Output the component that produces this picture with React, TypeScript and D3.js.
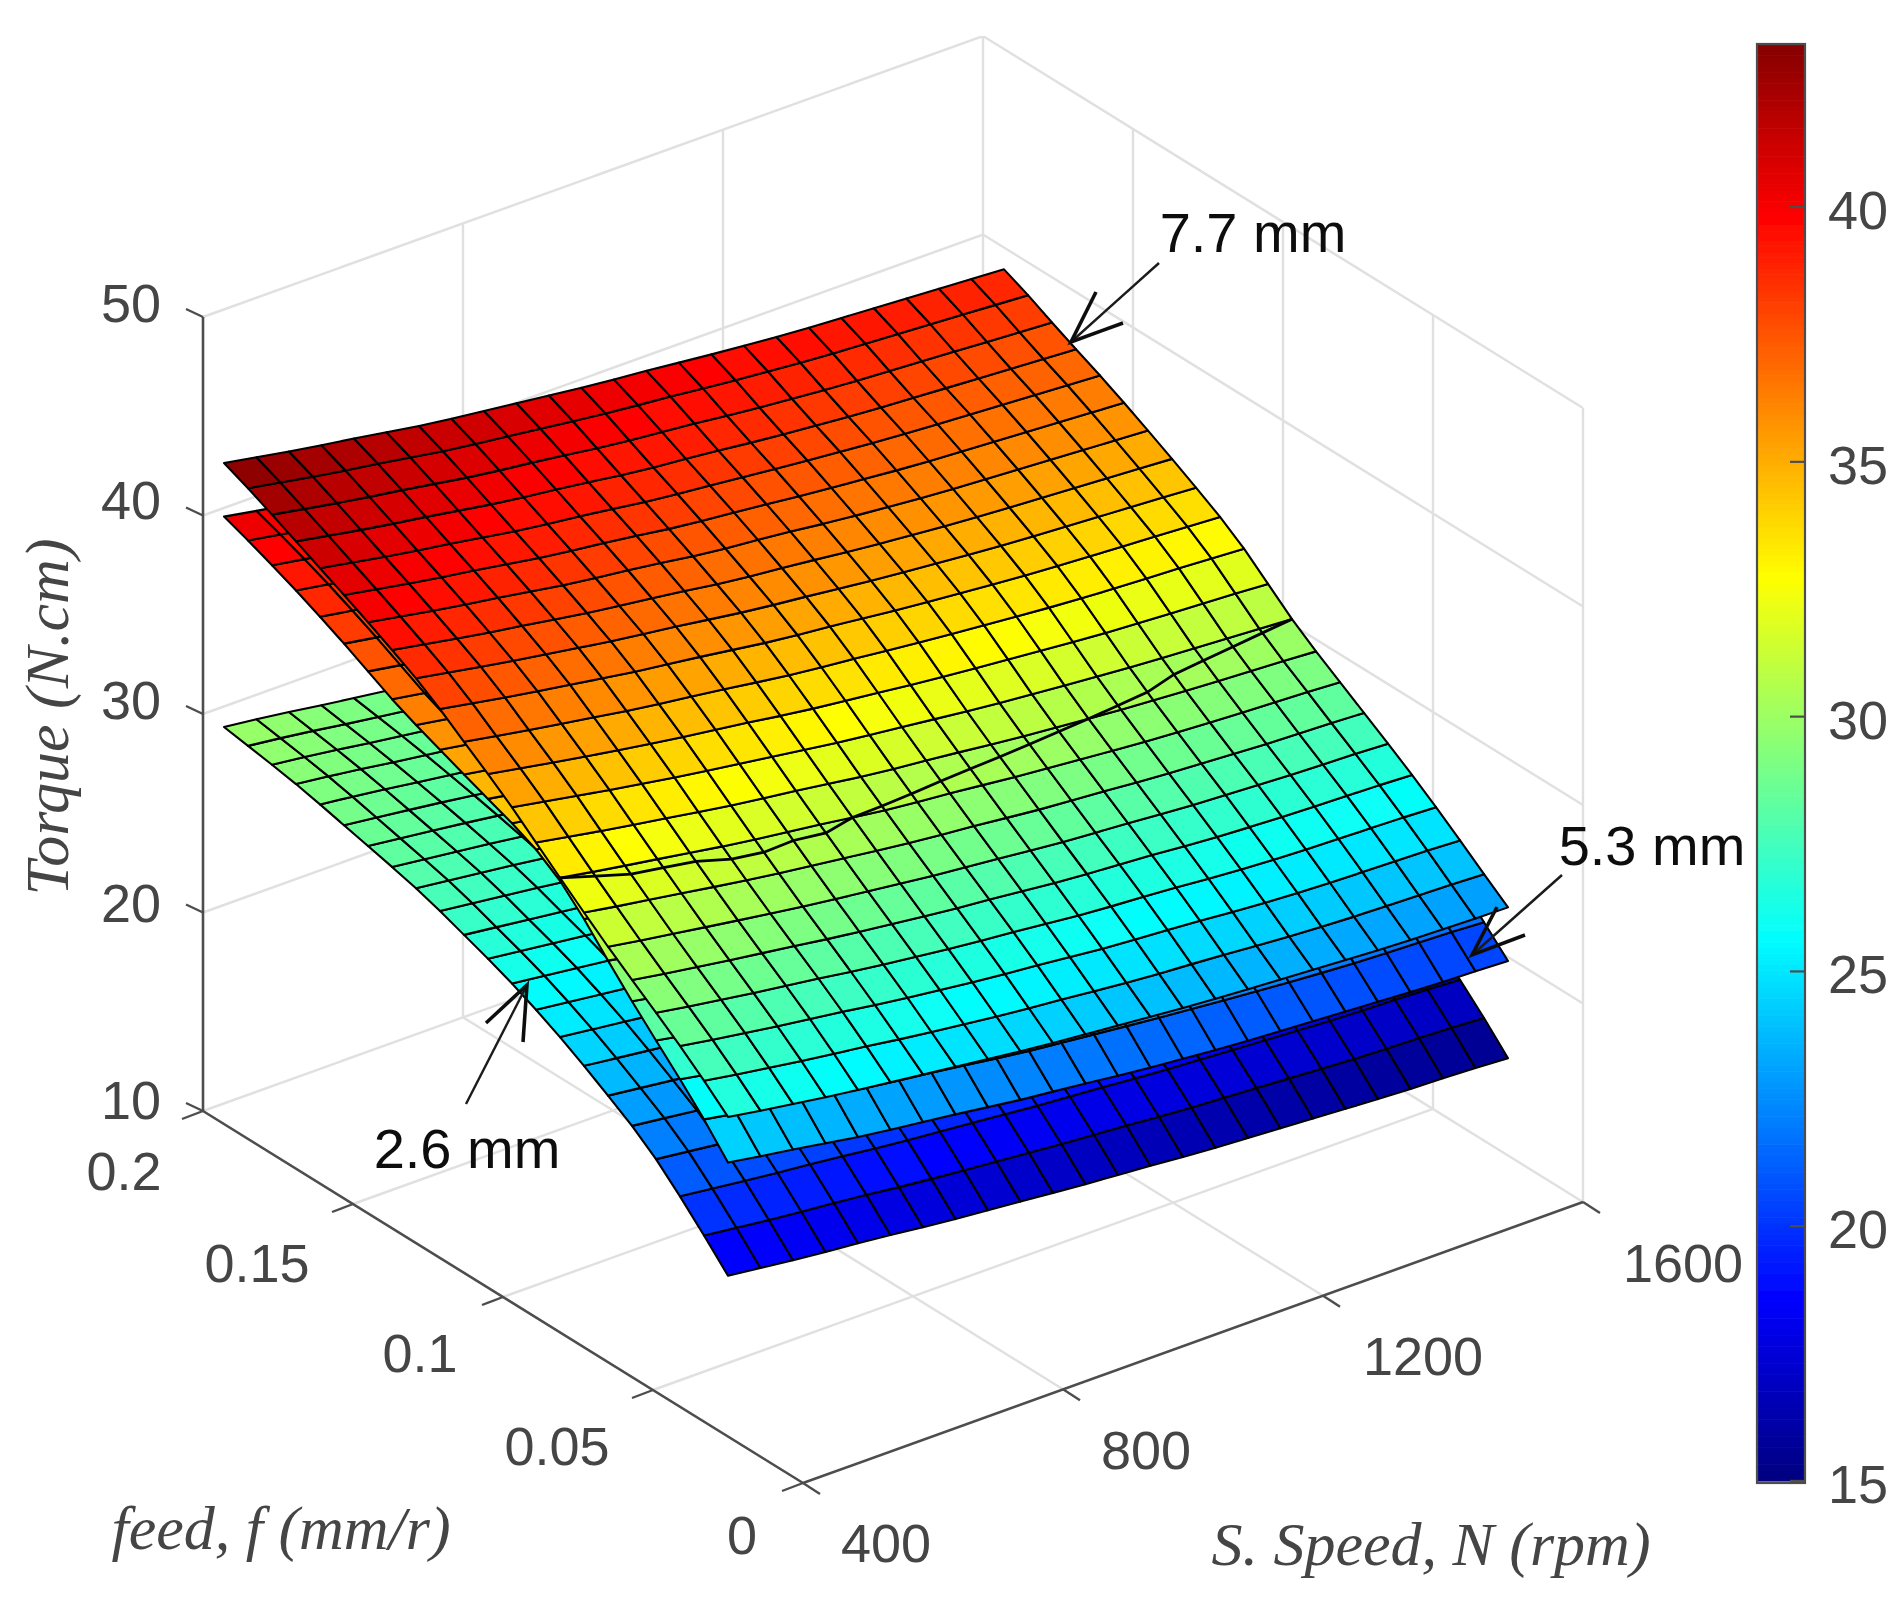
import {useEffect, useRef} from 'react';
import * as d3 from 'd3';

const [W, H] = [1898, 1603];

const speeds = [400, 450, 500, 550, 600, 650, 700, 750, 800, 850, 900, 950, 1000, 1050, 1100, 1150, 1200, 1250, 1300, 1350, 1400, 1450, 1500, 1550, 1600];
const feeds = [0.025, 0.033, 0.041, 0.049, 0.057, 0.065, 0.073, 0.081, 0.089, 0.097, 0.105, 0.113, 0.121, 0.129, 0.137, 0.145, 0.153, 0.161, 0.169, 0.177, 0.185, 0.193];

// one row per feed, one column per speed
const torque26 = [
    [18.1,17.9,17.7,17.5,17.4,17.2,17.0,16.8,16.7,16.5,16.4,16.2,16.1,16.0,15.8,15.7,15.6,15.5,15.4,15.3,15.2,15.1,15.1,15.0,14.9],
    [19.4,19.2,19.0,18.8,18.7,18.5,18.3,18.1,18.0,17.8,17.7,17.5,17.4,17.3,17.1,17.0,16.9,16.8,16.7,16.6,16.5,16.4,16.4,16.3,16.2],
    [20.6,20.4,20.2,20.0,19.9,19.7,19.5,19.3,19.2,19.0,18.9,18.7,18.6,18.5,18.3,18.2,18.1,18.0,17.9,17.8,17.7,17.6,17.6,17.5,17.4],
    [21.8,21.6,21.4,21.2,21.0,20.8,20.6,20.4,20.3,20.1,19.9,19.7,19.6,19.5,19.3,19.2,19.1,19.0,18.9,18.8,18.7,18.6,18.6,18.5,18.4],
    [22.7,22.5,22.3,22.1,21.9,21.7,21.5,21.3,21.2,21.0,20.8,20.6,20.5,20.4,20.2,20.1,20.0,19.9,19.8,19.7,19.6,19.5,19.5,19.4,19.3],
    [23.4,23.2,23.0,22.8,22.6,22.4,22.2,22.0,21.9,21.7,21.5,21.3,21.2,21.1,20.9,20.8,20.7,20.6,20.5,20.4,20.3,20.2,20.2,20.1,20.0],
    [24.2,24.0,23.8,23.6,23.4,23.2,23.0,22.8,22.6,22.4,22.2,22.0,21.9,21.8,21.6,21.5,21.4,21.3,21.2,21.1,21.0,20.9,20.9,20.8,20.7],
    [24.9,24.7,24.5,24.3,24.1,23.9,23.7,23.5,23.3,23.1,22.9,22.7,22.6,22.5,22.3,22.2,22.1,22.0,21.9,21.8,21.7,21.6,21.6,21.5,21.4],
    [25.5,25.3,25.1,24.9,24.7,24.5,24.3,24.1,23.9,23.7,23.5,23.3,23.2,23.1,22.9,22.8,22.7,22.6,22.5,22.4,22.3,22.2,22.2,22.1,22.0],
    [26.1,25.9,25.7,25.5,25.3,25.1,24.8,24.6,24.4,24.2,24.0,23.9,23.7,23.6,23.4,23.3,23.2,23.1,23.0,22.9,22.8,22.7,22.7,22.6,22.5],
    [26.6,26.4,26.2,26.0,25.8,25.6,25.3,25.1,24.9,24.7,24.5,24.4,24.2,24.1,23.9,23.8,23.7,23.6,23.5,23.4,23.3,23.2,23.2,23.1,23.0],
    [27.0,26.8,26.6,26.4,26.2,26.0,25.7,25.5,25.3,25.1,24.9,24.8,24.6,24.5,24.3,24.2,24.1,24.0,23.9,23.8,23.7,23.6,23.6,23.5,23.4],
    [27.5,27.3,27.1,26.9,26.7,26.4,26.2,26.0,25.8,25.6,25.4,25.2,25.0,24.9,24.7,24.6,24.5,24.4,24.3,24.2,24.1,24.0,24.0,23.9,23.8],
    [27.9,27.7,27.5,27.3,27.1,26.8,26.6,26.4,26.2,26.0,25.8,25.6,25.4,25.3,25.1,25.0,24.9,24.8,24.7,24.6,24.5,24.4,24.4,24.3,24.2],
    [28.2,28.0,27.8,27.6,27.4,27.1,26.9,26.7,26.5,26.3,26.1,25.9,25.7,25.6,25.4,25.3,25.2,25.1,25.0,24.9,24.8,24.7,24.7,24.6,24.5],
    [28.5,28.3,28.1,27.9,27.7,27.4,27.2,27.0,26.8,26.6,26.4,26.2,26.0,25.9,25.7,25.6,25.5,25.4,25.3,25.2,25.1,25.0,25.0,24.9,24.8],
    [28.8,28.6,28.4,28.2,28.0,27.7,27.5,27.3,27.1,26.9,26.7,26.4,26.3,26.1,26.0,25.9,25.7,25.6,25.5,25.4,25.3,25.2,25.2,25.1,25.0],
    [29.1,28.9,28.7,28.4,28.2,28.0,27.8,27.6,27.3,27.1,26.9,26.7,26.5,26.4,26.2,26.1,26.0,25.9,25.7,25.6,25.5,25.4,25.4,25.3,25.2],
    [29.4,29.2,29.0,28.7,28.5,28.3,28.0,27.8,27.6,27.4,27.2,26.9,26.8,26.6,26.5,26.3,26.2,26.1,26.0,25.9,25.8,25.7,25.6,25.5,25.4],
    [29.6,29.4,29.2,28.9,28.7,28.5,28.2,28.0,27.8,27.6,27.4,27.1,27.0,26.8,26.7,26.5,26.4,26.3,26.2,26.1,26.0,25.9,25.8,25.7,25.6],
    [29.8,29.6,29.4,29.1,28.9,28.7,28.4,28.2,28.0,27.8,27.6,27.3,27.2,27.0,26.9,26.7,26.6,26.5,26.4,26.3,26.2,26.1,26.0,25.9,25.8],
    [30.0,29.8,29.6,29.3,29.1,28.9,28.6,28.4,28.2,28.0,27.8,27.5,27.4,27.2,27.0,26.9,26.7,26.6,26.5,26.4,26.3,26.2,26.1,26.0,25.9],
];

const torque53 = [
    [23.8,23.5,23.3,23.0,22.7,22.5,22.3,22.1,21.9,21.6,21.5,21.3,21.1,20.9,20.8,20.6,20.5,20.4,20.3,20.2,20.1,20.0,19.9,19.9,19.8],
    [25.3,25.0,24.7,24.5,24.2,23.9,23.7,23.5,23.3,23.0,22.8,22.6,22.5,22.3,22.1,22.0,21.8,21.7,21.5,21.4,21.3,21.2,21.2,21.1,21.0],
    [26.5,26.2,25.9,25.7,25.4,25.1,24.9,24.7,24.5,24.2,24.0,23.8,23.7,23.5,23.3,23.2,23.0,22.9,22.7,22.6,22.5,22.4,22.4,22.3,22.2],
    [27.7,27.4,27.1,26.9,26.6,26.3,26.1,25.9,25.7,25.4,25.2,25.0,24.9,24.7,24.5,24.4,24.2,24.1,23.9,23.8,23.7,23.6,23.6,23.5,23.4],
    [28.9,28.6,28.3,28.1,27.8,27.5,27.3,27.1,26.9,26.6,26.4,26.2,26.1,25.9,25.7,25.6,25.4,25.3,25.1,25.0,24.9,24.8,24.8,24.7,24.6],
    [30.2,29.9,29.6,29.4,29.1,28.8,28.6,28.4,28.2,27.9,27.7,27.5,27.3,27.1,26.9,26.8,26.6,26.5,26.3,26.2,26.1,26.0,26.0,25.9,25.8],
    [31.6,31.3,31.0,30.7,30.4,30.2,29.9,29.7,29.4,29.2,29.0,28.7,28.6,28.4,28.2,28.0,27.8,27.7,27.5,27.4,27.3,27.2,27.1,27.0,26.9],
    [32.9,32.6,32.3,32.0,31.7,31.4,31.1,30.9,30.7,30.4,30.2,30.0,29.8,29.6,29.4,29.2,29.0,28.9,28.7,28.6,28.4,28.3,28.2,28.1,28.0],
    [33.6,33.3,33.0,32.7,32.5,32.2,31.9,31.7,31.5,31.3,31.0,30.8,30.7,30.5,30.3,30.1,30.0,29.8,29.7,29.6,29.5,29.4,29.3,29.2,29.1],
    [34.2,33.9,33.7,33.4,33.1,32.9,32.7,32.5,32.3,32.0,31.9,31.7,31.5,31.3,31.2,31.0,30.9,30.8,30.7,30.6,30.5,30.4,30.3,30.3,30.2],
    [34.6,34.3,34.1,33.8,33.6,33.4,33.1,32.9,32.7,32.5,32.3,32.2,32.0,31.8,31.7,31.6,31.4,31.3,31.2,31.1,31.1,31.0,30.9,30.9,30.9],
    [35.1,34.8,34.6,34.4,34.1,33.9,33.7,33.5,33.3,33.1,33.0,32.8,32.7,32.5,32.4,32.3,32.1,32.0,32.0,31.9,31.8,31.7,31.7,31.6,31.6],
    [35.6,35.3,35.1,34.9,34.6,34.4,34.2,34.0,33.8,33.7,33.5,33.4,33.2,33.1,33.0,32.9,32.7,32.6,32.6,32.5,32.4,32.3,32.3,32.2,32.2],
    [36.1,35.8,35.6,35.4,35.1,34.9,34.7,34.6,34.4,34.2,34.1,33.9,33.8,33.7,33.6,33.5,33.3,33.2,33.2,33.1,33.0,32.9,32.9,32.8,32.8],
    [36.6,36.3,36.1,35.9,35.6,35.4,35.2,35.1,34.9,34.7,34.6,34.4,34.3,34.2,34.1,34.0,33.8,33.7,33.7,33.6,33.5,33.4,33.4,33.3,33.3],
    [37.3,37.0,36.8,36.5,36.3,36.1,35.9,35.7,35.5,35.4,35.2,35.0,34.9,34.8,34.6,34.5,34.4,34.3,34.2,34.1,34.0,33.9,33.9,33.8,33.8],
    [38.0,37.7,37.5,37.2,37.0,36.7,36.5,36.3,36.2,36.0,35.8,35.6,35.5,35.3,35.2,35.1,34.9,34.8,34.7,34.6,34.5,34.4,34.4,34.3,34.3],
    [38.5,38.2,38.0,37.7,37.5,37.2,37.0,36.8,36.7,36.5,36.3,36.1,36.0,35.8,35.7,35.6,35.4,35.3,35.2,35.1,35.0,34.9,34.9,34.8,34.8],
    [39.2,38.9,38.7,38.4,38.1,37.9,37.7,37.5,37.3,37.0,36.9,36.7,36.5,36.3,36.2,36.0,35.9,35.7,35.6,35.5,35.4,35.3,35.3,35.2,35.2],
    [39.6,39.3,39.1,38.8,38.5,38.3,38.1,37.9,37.7,37.4,37.3,37.1,36.9,36.7,36.6,36.4,36.3,36.1,36.0,35.9,35.8,35.7,35.7,35.6,35.6],
    [40.2,39.9,39.6,39.4,39.1,38.9,38.6,38.4,38.2,38.0,37.8,37.6,37.4,37.2,37.1,36.9,36.8,36.6,36.5,36.4,36.3,36.2,36.1,36.1,36.0],
    [40.6,40.3,40.0,39.8,39.5,39.3,39.0,38.8,38.6,38.4,38.2,38.0,37.8,37.6,37.4,37.2,37.1,36.9,36.8,36.7,36.6,36.5,36.4,36.4,36.3],
];

const torque77 = [
    [26.1,25.8,25.6,25.3,25.1,24.9,24.7,24.5,24.3,24.1,23.9,23.8,23.6,23.5,23.3,23.2,23.1,23.0,22.9,22.8,22.7,22.6,22.6,22.5,22.5],
    [27.2,26.9,26.7,26.4,26.2,26.0,25.7,25.5,25.3,25.1,24.9,24.8,24.6,24.4,24.3,24.2,24.1,23.9,23.8,23.7,23.6,23.6,23.5,23.5,23.4],
    [28.2,27.9,27.7,27.4,27.2,27.0,26.7,26.5,26.3,26.1,25.9,25.8,25.6,25.4,25.3,25.2,25.1,24.9,24.8,24.7,24.6,24.6,24.5,24.5,24.4],
    [29.1,28.8,28.6,28.3,28.1,27.9,27.6,27.4,27.2,27.0,26.8,26.7,26.5,26.3,26.2,26.1,26.0,25.8,25.7,25.6,25.5,25.5,25.4,25.4,25.3],
    [30.0,29.7,29.5,29.2,29.0,28.8,28.5,28.3,28.1,27.9,27.7,27.6,27.4,27.2,27.1,27.0,26.9,26.7,26.6,26.5,26.4,26.4,26.3,26.3,26.2],
    [30.9,30.6,30.4,30.1,29.9,29.6,29.4,29.2,29.0,28.8,28.6,28.4,28.3,28.1,27.9,27.8,27.7,27.6,27.4,27.4,27.3,27.2,27.1,27.1,27.0],
    [31.9,31.6,31.4,31.1,30.8,30.6,30.3,30.1,29.9,29.7,29.5,29.3,29.2,29.0,28.8,28.7,28.6,28.4,28.3,28.2,28.1,28.0,27.9,27.9,27.8],
    [32.9,32.6,32.3,32.1,31.8,31.5,31.3,31.1,30.9,30.6,30.4,30.2,30.1,29.9,29.7,29.6,29.4,29.3,29.1,29.0,28.9,28.8,28.8,28.7,28.6],
    [33.9,33.6,33.3,33.0,32.8,32.5,32.2,32.0,31.8,31.6,31.3,31.1,31.0,30.8,30.6,30.4,30.3,30.1,30.0,29.9,29.8,29.7,29.6,29.5,29.4],
    [35.0,34.7,34.4,34.1,33.8,33.5,33.3,33.0,32.8,32.5,32.3,32.1,31.9,31.7,31.5,31.3,31.2,31.0,30.9,30.7,30.6,30.5,30.4,30.3,30.2],
    [35.9,35.6,35.3,35.0,34.7,34.5,34.2,34.0,33.8,33.5,33.3,33.1,32.9,32.7,32.5,32.4,32.2,32.1,31.9,31.8,31.7,31.6,31.5,31.4,31.3],
    [36.7,36.4,36.1,35.9,35.6,35.3,35.1,34.9,34.7,34.4,34.2,34.0,33.9,33.7,33.5,33.4,33.2,33.1,32.9,32.8,32.7,32.6,32.6,32.5,32.4],
    [37.7,37.4,37.1,36.8,36.6,36.3,36.0,35.8,35.6,35.4,35.1,34.9,34.8,34.6,34.4,34.2,34.1,33.9,33.8,33.7,33.6,33.5,33.4,33.3,33.2],
    [38.5,38.2,37.9,37.6,37.3,37.1,36.8,36.6,36.4,36.1,35.9,35.7,35.5,35.3,35.1,35.0,34.8,34.7,34.5,34.4,34.3,34.2,34.1,34.0,33.9],
    [39.1,38.8,38.5,38.2,38.0,37.7,37.4,37.2,37.0,36.8,36.5,36.3,36.2,36.0,35.8,35.6,35.5,35.3,35.2,35.1,35.0,34.9,34.8,34.7,34.6],
    [39.8,39.5,39.2,38.9,38.7,38.4,38.1,37.9,37.7,37.5,37.2,37.0,36.9,36.7,36.5,36.3,36.2,36.0,35.9,35.8,35.7,35.6,35.5,35.4,35.3],
    [40.4,40.1,39.8,39.5,39.3,39.0,38.7,38.5,38.3,38.1,37.8,37.6,37.5,37.3,37.1,36.9,36.8,36.6,36.5,36.4,36.3,36.2,36.1,36.0,35.9],
    [41.0,40.7,40.4,40.1,39.9,39.6,39.3,39.1,38.9,38.7,38.4,38.3,38.1,37.9,37.8,37.6,37.5,37.3,37.2,37.1,37.0,36.9,36.8,36.7,36.6],
    [41.6,41.3,41.0,40.7,40.5,40.2,39.9,39.7,39.5,39.3,39.0,38.8,38.7,38.5,38.3,38.1,38.0,37.8,37.7,37.6,37.5,37.4,37.3,37.2,37.1],
    [42.2,41.9,41.6,41.3,41.1,40.8,40.5,40.3,40.1,39.9,39.6,39.4,39.3,39.1,38.9,38.7,38.6,38.4,38.3,38.2,38.1,38.0,37.9,37.8,37.7],
    [42.8,42.5,42.2,41.9,41.7,41.4,41.1,40.9,40.7,40.5,40.3,40.1,39.9,39.8,39.6,39.4,39.3,39.1,39.0,38.9,38.8,38.7,38.6,38.5,38.4],
    [43.3,43.0,42.7,42.4,42.2,41.9,41.6,41.4,41.2,41.0,40.8,40.6,40.4,40.3,40.1,39.9,39.8,39.6,39.5,39.4,39.3,39.2,39.1,39.0,38.9],
];

// where the 5.3 mm surface touches the 7.7 mm one: feed at each speed
const touchFeeds = [0.081, 0.080, 0.079, 0.079, 0.079, 0.078, 0.078, 0.079, 0.079, 0.081, 0.082, 0.083, 0.084, 0.085, 0.086, 0.087, 0.088, 0.089, 0.090, 0.091, 0.093, 0.094, 0.095, 0.096, 0.097];

const speedTicks = [400, 800, 1200, 1600];
const feedTicks = [0, 0.05, 0.1, 0.15, 0.2];
const torqueTicks = [10, 20, 30, 40, 50];
const barTicks = [15, 20, 25, 30, 35, 40];

const jetStops = [0, 0.125, 0.375, 0.625, 0.875, 1];
const jetColors = ['#000080', '#0000ff', '#00ffff', '#ffff00', '#ff0000', '#800000'];

const ORIGIN = [803, 1483];
const nScale = d3.scaleLinear().domain([400, 1600]).range([0, 1]);
const fScale = d3.scaleLinear().domain([0, 0.2]).range([0, 1]);
const zScale = d3.scaleLinear().domain([10, 50]).range([0, 794]);

const project = (N: number, f: number, z: number): [number, number] => [
    ORIGIN[0] + nScale(N) * 780 - fScale(f) * 600,
    ORIGIN[1] - nScale(N) * 281 - fScale(f) * 372 - zScale(z),
];

const jetPos = d3.scaleLinear().domain([15, 43.3]).range([0, 1]).clamp(true);
const jetRamp = d3.scaleLinear<string>().domain(jetStops).range(jetColors);
const jet = (v: number) => jetRamp(jetPos(v));

// the tables are read to one decimal, this takes the rounding wobble out of the mesh
const soften = (table: number[][]) => {
    const along = (a: number[]) => a.map((v, i) => (i === 0 || i === a.length - 1 ? v : (a[i - 1] + 2 * v + a[i + 1]) / 4));
    const byRow = table.map(along);
    const byCol = d3.transpose(byRow).map(along);
    return d3.transpose(byCol) as number[][];
};

function SurfaceChart() {
    const root = useRef<SVGGElement>(null);

    useEffect(() => {
        const g = d3.select(root.current);
        g.selectAll('*').remove();

        const lineGen = d3.line();
        const seg = (pts: [number, number][], color: string, width: number) =>
            g.append('path').attr('d', lineGen(pts)).attr('fill', 'none').attr('stroke', color).attr('stroke-width', width);

        // walls and floor
        const grid = '#e0e0e0';
        speedTicks.slice(1, 3).forEach(N => {
            seg([project(N, 0, 10), project(N, 0.2, 10), project(N, 0.2, 50)], grid, 2.4);
        });
        feedTicks.slice(1, 4).forEach(f => {
            seg([project(400, f, 10), project(1600, f, 10), project(1600, f, 50)], grid, 2.4);
        });
        torqueTicks.slice(1).forEach(z => {
            seg([project(400, 0.2, z), project(1600, 0.2, z), project(1600, 0, z)], grid, 2.4);
        });
        seg([project(1600, 0.2, 10), project(1600, 0.2, 50)], grid, 2.4);
        seg([project(400, 0.2, 10), project(1600, 0.2, 10), project(1600, 0, 10)], grid, 2.4);
        seg([project(1600, 0, 10), project(1600, 0, 50)], grid, 2.4);

        // axes
        const axisColor = '#4d4d4d';
        seg([project(400, 0.2, 10), project(400, 0.2, 50)], axisColor, 2.6);
        seg([project(400, 0.2, 10), project(400, 0, 10)], axisColor, 2.6);
        seg([project(400, 0, 10), project(1600, 0, 10)], axisColor, 2.6);
        torqueTicks.forEach(z => {
            const [x, y] = project(400, 0.2, z);
            seg([[x, y], [x - 17, y - 8]], axisColor, 2.4);
        });
        feedTicks.forEach(f => {
            const [x, y] = project(400, f, 10);
            seg([[x, y], [x - 21, y + 8]], axisColor, 2.4);
        });
        speedTicks.forEach(N => {
            const [x, y] = project(N, 0, 10);
            seg([[x, y], [x + 17, y + 11]], axisColor, 2.4);
        });

        // surfaces, lowest first
        [torque26, torque53, torque77].map(soften).forEach(table => {
            const cells = [];
            for (let r = 0; r < feeds.length - 1; r++) {
                for (let c = 0; c < speeds.length - 1; c++) {
                    cells.push({r, c});
                }
            }
            g.append('g')
                .selectAll('polygon')
                .data(cells)
                .enter()
                .append('polygon')
                .attr('points', ({r, c}) => [
                    project(speeds[c], feeds[r], table[r][c]),
                    project(speeds[c + 1], feeds[r], table[r][c + 1]),
                    project(speeds[c + 1], feeds[r + 1], table[r + 1][c + 1]),
                    project(speeds[c], feeds[r + 1], table[r + 1][c]),
                ].join(' '))
                .attr('fill', ({r, c}) => jet((table[r][c] + table[r][c + 1] + table[r + 1][c] + table[r + 1][c + 1]) / 4))
                .attr('stroke', '#000')
                .attr('stroke-width', 2.1)
                .attr('stroke-linejoin', 'round');
        });

        // crease along the touching line, height taken from the 7.7 mm table
        const top = soften(torque77);
        const feedIndex = d3.scaleLinear().domain([feeds[0], feeds[feeds.length - 1]]).range([0, feeds.length - 1]);
        const creaseHeight = (f: number, c: number) => {
            const pos = feedIndex(f);
            const r = Math.floor(pos);
            return top[r][c] + (top[r + 1][c] - top[r][c]) * (pos - r);
        };
        seg(speeds.map((N, c) => project(N, touchFeeds[c], creaseHeight(touchFeeds[c], c))), '#000', 2.8);

        // colour bar
        const barY = d3.scaleLinear().domain([15, 43.2]).range([1481, 44]);
        const barSteps = d3.range(256).map(i => 15 + (i * 28.2) / 256);
        g.append('g')
            .selectAll('rect')
            .data(barSteps)
            .enter()
            .append('rect')
            .attr('x', 1757)
            .attr('width', 48)
            .attr('y', d => barY(d + 28.2 / 256))
            .attr('height', d => barY(d) - barY(d + 28.2 / 256) + 0.6)
            .attr('fill', d => jet(d));
        g.append('rect')
            .attr('x', 1757).attr('y', 44).attr('width', 48).attr('height', 1439)
            .attr('fill', 'none').attr('stroke', '#4d4d4d').attr('stroke-width', 2.2);
        barTicks.forEach(v => {
            seg([[1790, barY(v)], [1805, barY(v)]], '#4d4d4d', 2.2);
            g.append('text').text(v).attr('x', 1828).attr('y', barY(v) + 3).attr('dy', '0.35em')
                .style('font-family', 'Liberation Sans').style('font-size', '54px').style('fill', '#444');
        });

        // tick labels
        const label = (t: string, x: number, y: number, size = 54, color = '#444') =>
            g.append('text').text(t).attr('x', x).attr('y', y).attr('dy', '0.35em').attr('text-anchor', 'middle')
                .style('font-family', 'Liberation Sans').style('font-size', `${size}px`).style('fill', color);
        const zLabels = [[131, 1100], [131, 903], [131, 700], [131, 500], [131, 303]];
        torqueTicks.forEach((z, i) => label(String(z), zLabels[i][0], zLabels[i][1]));
        const fLabels = [[742, 1535], [557, 1446], [420, 1353], [257, 1263], [124, 1171]];
        feedTicks.forEach((f, i) => label(String(f), fLabels[i][0], fLabels[i][1]));
        const nLabels = [[886, 1543], [1146, 1450], [1423, 1356], [1683, 1263]];
        speedTicks.forEach((N, i) => label(String(N), nLabels[i][0], nLabels[i][1]));

        // axis titles
        const title = (t: string, x: number, y: number, rotate = 0) =>
            g.append('text').text(t)
                .attr('transform', `translate(${x},${y}) rotate(${rotate})`)
                .attr('text-anchor', 'middle').attr('dy', '0.35em')
                .style('font-family', '"Liberation Serif", "Times New Roman", serif').style('font-style', 'italic')
                .style('font-size', '62px').style('fill', '#444');
        title('Torque (N.cm)', 46, 717, -90);
        title('feed, f (mm/r)', 281, 1527);
        title('S. Speed, N (rpm)', 1431, 1543);

        // labelled arrows
        label('7.7 mm', 1253, 232, 56, '#111');
        label('5.3 mm', 1652, 845, 56, '#111');
        label('2.6 mm', 467, 1148, 56, '#111');
        const arrows: [number, number][][] = [
            [[1159, 263], [1071, 342], [1096, 292], [1071, 342], [1123, 323]],
            [[1562, 875], [1472, 955], [1497, 907], [1472, 955], [1525, 935]],
            [[466, 1104], [527, 985], [486, 1023], [527, 985], [523, 1042]],
        ];
        arrows.forEach(a => {
            seg(a.slice(0, 2), '#1a1a1a', 2.4);
            seg(a.slice(2), '#111', 3.6);
        });
    }, []);

    return (
        <svg width={W} height={H} style={{position: 'absolute', left: 0, top: 0, background: '#fff'}}>
            <defs>
                <filter id="soft" x="0" y="0" width="100%" height="100%">
                    <feGaussianBlur stdDeviation="0.6" />
                </filter>
            </defs>
            <g ref={root} filter="url(#soft)" />
        </svg>
    );
}

export default function App() {
    return <SurfaceChart />;
}
